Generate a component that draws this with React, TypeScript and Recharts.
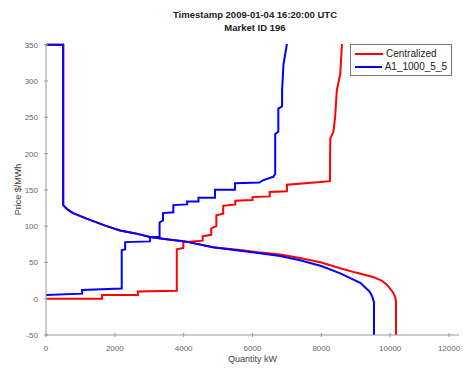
import { LineChart, Line, XAxis, YAxis } from 'recharts'

// step curves: [quantity kW, price $/MWh]
const redDemand = [
  [0, 350], [500, 350], [500, 129], [600, 124], [785, 118], [1200, 110], [1700, 101],
  [2150, 94], [2600, 90], [3020, 85], [3500, 82], [4040, 79], [4850, 71], [5640, 67],
  [6160, 64], [6800, 61], [7380, 56], [8000, 50], [8550, 42], [9000, 36], [9500, 30],
  [9750, 25], [9910, 19], [10080, 9], [10150, 2], [10170, -5], [10170, -50],
]
const blueDemand = [
  [0, 350], [500, 350], [500, 129], [600, 124], [785, 118], [1200, 110], [1700, 101],
  [2150, 94], [2600, 90], [3020, 85], [3500, 82], [4040, 79], [4850, 71], [5640, 66],
  [6160, 63], [6800, 59], [7380, 53], [8000, 45], [8550, 35], [9130, 22], [9400, 10],
  [9480, 3], [9530, -5], [9530, -50],
]
const redSupply = [
  [0, 0], [1630, 0], [1630, 5], [2670, 5], [2670, 10], [3800, 11], [3800, 68], [3990, 70],
  [3990, 78], [4550, 80], [4550, 86], [4800, 88], [4800, 97], [4950, 100], [4950, 115],
  [5150, 117], [5150, 128], [5500, 130], [5500, 135], [6000, 136], [6000, 140], [6500, 141],
  [6500, 147], [7000, 148], [7000, 157], [7800, 160], [8250, 162], [8250, 170], [8260, 221],
  [8350, 230], [8400, 250], [8450, 287], [8550, 310], [8600, 351],
]
const blueSupply = [
  [0, 5], [1050, 7], [1050, 12], [2200, 14], [2200, 67], [2300, 68], [2300, 78], [3020, 79],
  [3020, 85], [3300, 85], [3300, 105], [3400, 108], [3400, 118], [3700, 119], [3700, 129],
  [4100, 130], [4100, 134], [4430, 134], [4430, 139], [4910, 139], [4910, 150], [5490, 150],
  [5490, 159], [6200, 160], [6300, 163], [6600, 168], [6660, 172], [6660, 227], [6750, 230],
  [6750, 262], [6860, 265], [6860, 287], [6900, 323], [7000, 351],
]

const xTicks = [0, 2000, 4000, 6000, 8000, 10000, 12000]
const yTicks = [-50, 0, 50, 100, 150, 200, 250, 300, 350]

const seriesNames = ['Centralized', 'A1_1000_5_5']
const seriesColors = ['#ff0000', '#0000ff']

const toPts = (arr: number[][]) => arr.map(([q, p]) => ({ q, p }))

const font = '"Liberation Sans", Arial, sans-serif'
const tickColor = '#666'

const YTick = (props: any) => {
  const { x, y, payload } = props
  const ax = x + 6
  return (
    <g>
      <line x1={ax} x2={ax + 4} y1={y} y2={y} stroke="#999" />
      <text x={x} y={y} dy={3} textAnchor="end" fontSize={8} fill={tickColor} fontFamily={font}>
        {payload.value}
      </text>
    </g>
  )
}

const XTick = (props: any) => {
  const { x, y, payload } = props
  const ay = y - 6
  return (
    <g>
      <line x1={x} x2={x} y1={ay} y2={ay - 4} stroke="#999" />
      <text x={x} y={y} dy={8} textAnchor="middle" fontSize={8} fill={tickColor} fontFamily={font}>
        {payload.value}
      </text>
    </g>
  )
}

const LegendBox = () => (
  <div
    style={{
      position: 'absolute',
      top: 44,
      left: 350,
      width: 92,
      border: '1px solid #777',
      background: '#fff',
      padding: '2px 4px',
      fontFamily: font,
      fontSize: 10,
      color: '#222',
    }}
  >
    {seriesNames.map((n, i) => (
      <div key={n} style={{ display: 'flex', alignItems: 'center', height: 13 }}>
        <span style={{ display: 'inline-block', width: 28, height: 2, background: seriesColors[i], marginRight: 3 }} />
        {n}
      </div>
    ))}
  </div>
)

export default function App() {
  return (
    <div style={{ margin: -8, position: 'relative', width: 469, height: 372, background: '#fff' }}>
      <div
        style={{
          position: 'absolute',
          top: 8,
          left: 0,
          width: 510,
          textAlign: 'center',
          fontFamily: font,
          fontWeight: 'bold',
          fontSize: 9.5,
          lineHeight: '13px',
          color: '#222',
        }}
      >
        <div>Timestamp 2009-01-04 16:20:00 UTC</div>
        <div>Market ID 196</div>
      </div>
      <LineChart width={469} height={372} margin={{ top: 44, right: 10, bottom: 12, left: 6 }}>
        <XAxis
          type="number"
          dataKey="q"
          domain={[0, 12000]}
          ticks={xTicks}
          height={25}
          stroke="#999"
          tickLine={false}
          tick={<XTick />}
          label={{ value: 'Quantity kW', position: 'insideBottom', offset: -2, fontSize: 9, fill: '#444', fontFamily: font }}
        />
        <YAxis
          type="number"
          dataKey="p"
          domain={[-50, 350]}
          ticks={yTicks}
          width={40}
          stroke="#999"
          tickLine={false}
          tick={<YTick />}
          label={{ value: 'Price $/MWh', angle: -90, position: 'insideLeft', offset: 12, textAnchor: 'middle', fontSize: 9, fill: '#444', fontFamily: font }}
        />
        <Line data={toPts(redDemand)} dataKey="p" stroke={seriesColors[0]} strokeWidth={2} dot={false} isAnimationActive={false} />
        <Line data={toPts(redSupply)} dataKey="p" stroke={seriesColors[0]} strokeWidth={2} dot={false} isAnimationActive={false} />
        <Line data={toPts(blueDemand)} dataKey="p" stroke={seriesColors[1]} strokeWidth={2} dot={false} isAnimationActive={false} />
        <Line data={toPts(blueSupply)} dataKey="p" stroke={seriesColors[1]} strokeWidth={2} dot={false} isAnimationActive={false} />
      </LineChart>
      <LegendBox />
    </div>
  )
}
